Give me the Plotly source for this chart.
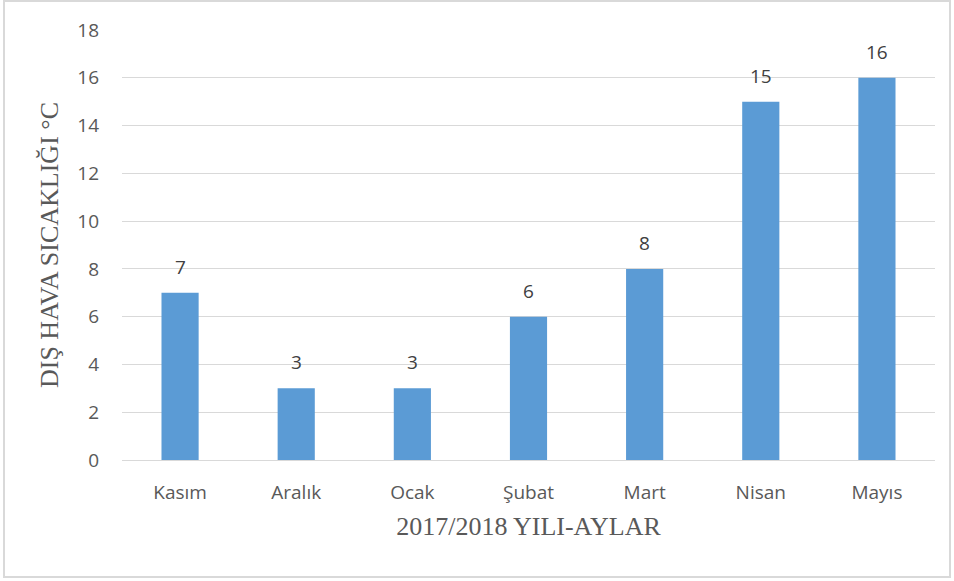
import plotly.graph_objects as go

months = ["Kasım", "Aralık", "Ocak", "Şubat", "Mart", "Nisan", "Mayıs"]
temps = [7, 3, 3, 6, 8, 15, 16]
y_ticks = [0, 2, 4, 6, 8, 10, 12, 14, 16, 18]

W, H = 954, 581
L, R, T, B = 122, 19, 30, 121
pw, ph = W - L - R, H - T - B

def px(x):
    return (x - L) / pw

def py(y):
    return (H - B - y) / ph

SANS = "Open Sans, Noto Sans, sans-serif"
SERIF = "Liberation Serif, Times New Roman, serif"

fig = go.Figure()
fig.add_trace(go.Bar(
    x=months, y=temps,
    marker=dict(color="#5B9BD5", line=dict(width=0)),
    width=0.32,
    hoverinfo="x+y",
))

for m, v in zip(months, temps):
    fig.add_annotation(x=m, y=v, text=str(v), showarrow=False,
                       xanchor="center", yanchor="bottom", yshift=11,
                       font=dict(family=SANS, size=19, color="#404040"))

fig.update_layout(
    width=W, height=H,
    margin=dict(l=L, r=R, t=T, b=B),
    paper_bgcolor="white", plot_bgcolor="white",
    showlegend=False,
    xaxis=dict(
        showgrid=False, showline=False, ticks="", ticklabelstandoff=19,
        tickfont=dict(family=SANS, size=19, color="#595959"),
        title=dict(text="2017/2018 YILI-AYLAR", standoff=12,
                   font=dict(family=SERIF, size=26, color="#595959")),
    ),
    yaxis=dict(
        range=[0, 18], tickvals=y_ticks,
        showgrid=True, gridcolor="#d9d9d9", gridwidth=1,
        zeroline=True, zerolinecolor="#d9d9d9", zerolinewidth=1,
        showline=False, ticks="", ticklabelstandoff=22,
        tickfont=dict(family=SANS, size=19, color="#595959"),
        title=dict(text="DIŞ HAVA SICAKLIĞI °C", standoff=11,
                   font=dict(family=SERIF, size=26, color="#595959")),
    ),
    shapes=[dict(type="rect", xref="paper", yref="paper",
                 x0=px(4), x1=px(950), y0=py(577), y1=py(1),
                 line=dict(color="#d9d9d9", width=2), fillcolor="rgba(0,0,0,0)", layer="below")],
)

fig.write_html("out.html", config={"displayModeBar": False},
               post_script="document.body.style.margin='0';")
